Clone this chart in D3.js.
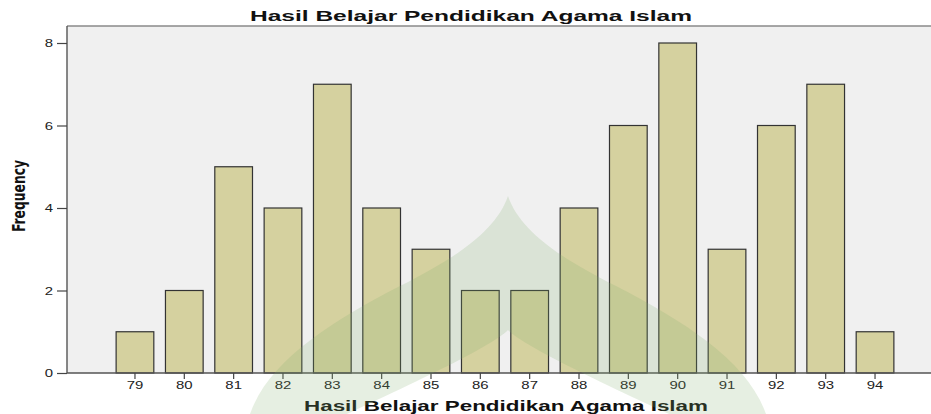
<!DOCTYPE html>
<html>
<head>
<meta charset="utf-8">
<script src="https://cdn.jsdelivr.net/npm/d3@7"></script>
<style>
  body { margin: 0; background: #fff; }
  svg { display: block; font-family: "Liberation Sans", Arial, sans-serif; }
</style>
</head>
<body>
<svg id="chart" width="931" height="414"></svg>
<script>
// data
const categories = ['79', '80', '81', '82', '83', '84', '85', '86', '87', '88', '89', '90', '91', '92', '93', '94'];
const frequencies = [1, 2, 5, 4, 7, 4, 3, 2, 2, 4, 6, 8, 3, 6, 7, 1];
const yTicks = [0, 2, 4, 6, 8];
const chartTitle = 'Hasil Belajar Pendidikan Agama Islam';
const xTitle = 'Hasil Belajar Pendidikan Agama Islam';
const yTitle = 'Frequency';

const svg = d3.select('#chart');
const width = +svg.attr('width');
const height = +svg.attr('height');
const plot = {left: 67, top: 26, right: width, bottom: 373};

const xScale = d3.scaleBand()
  .domain(categories)
  .range([110.3, 899.7])
  .paddingInner(0.236)
  .paddingOuter(0.118);
const yScale = d3.scaleLinear()
  .domain([0, 8])
  .range([plot.bottom, 43]);

// plot background + top frame line
svg.append('rect')
  .attr('x', plot.left).attr('y', plot.top)
  .attr('width', plot.right - plot.left).attr('height', plot.bottom - plot.top)
  .attr('fill', '#f0f0f0');
svg.append('line')
  .attr('x1', plot.left).attr('x2', plot.right)
  .attr('y1', plot.top).attr('y2', plot.top)
  .attr('stroke', '#8a8a8a').attr('stroke-width', 1.6);

// bars
const data = categories.map((c, i) => ({score: c, freq: frequencies[i]}));
svg.append('g').selectAll('rect').data(data).enter().append('rect')
  .attr('x', d => xScale(d.score))
  .attr('y', d => yScale(d.freq))
  .attr('width', xScale.bandwidth())
  .attr('height', d => yScale(0) - yScale(d.freq))
  .attr('fill', '#d5d19f')
  .attr('stroke', '#333')
  .attr('stroke-width', 1.2);

// axes
const yAxis = d3.axisLeft(yScale).tickValues(yTicks).tickSize(10).tickPadding(4).tickFormat(d3.format('d'));
const xAxis = d3.axisBottom(xScale).tickSize(6).tickPadding(2).tickSizeOuter(0);

const yAxisGroup = svg.append('g')
  .attr('transform', `translate(${plot.left},0)`)
  .call(yAxis);
yAxisGroup.select('.domain').attr('d', `M0,${plot.top}V${plot.bottom}`);

const xAxisGroup = svg.append('g')
  .attr('transform', `translate(0,${plot.bottom})`)
  .call(xAxis);
xAxisGroup.select('.domain').attr('d', `M${plot.left},0H${plot.right}`);

svg.selectAll('.domain').attr('stroke', '#555').attr('stroke-width', 1.4);
svg.selectAll('.tick line').attr('stroke', '#444').attr('stroke-width', 1.2);
// SPSS renders its labels horizontally stretched
svg.selectAll('.tick text')
  .attr('font-size', '11px')
  .attr('fill', '#222')
  .attr('font-family', '"Liberation Sans", Arial, sans-serif')
  .attr('textLength', function() { return this.textContent.length * 8.3; })
  .attr('lengthAdjust', 'spacingAndGlyphs');

// titles
svg.append('text')
  .attr('x', 250).attr('y', 21)
  .attr('textLength', 442).attr('lengthAdjust', 'spacingAndGlyphs')
  .attr('font-size', '14px').attr('font-weight', 'bold').attr('fill', '#111')
  .text(chartTitle);

svg.append('text')
  .attr('x', 304).attr('y', 411)
  .attr('textLength', 404).attr('lengthAdjust', 'spacingAndGlyphs')
  .attr('font-size', '14.5px').attr('font-weight', 'bold').attr('fill', '#111')
  .text(xTitle);

svg.append('text')
  .attr('transform', 'translate(25,232) rotate(-90)')
  .attr('textLength', 72).attr('lengthAdjust', 'spacingAndGlyphs')
  .attr('font-size', '17px').attr('font-weight', 'bold').attr('fill', '#111')
  .attr('font-family', '"Liberation Sans Narrow", "DejaVu Sans Condensed", sans-serif')
  .text(yTitle);

// faint dome watermark lying over the picture
svg.append('path')
  .attr('d', 'M250,414 C268,362 330,322 400,286 C452,260 496,232 508,196 ' +
             'C520,232 564,260 616,286 C686,322 748,362 766,414 Z ' +
             'M508,330 C494,344 440,372 290,440 L726,440 C576,372 522,344 508,330 Z')
  .attr('fill-rule', 'evenodd')
  .attr('fill', 'rgb(130,175,110)')
  .attr('opacity', 0.2)
  .attr('pointer-events', 'none');
</script>
</body>
</html>
